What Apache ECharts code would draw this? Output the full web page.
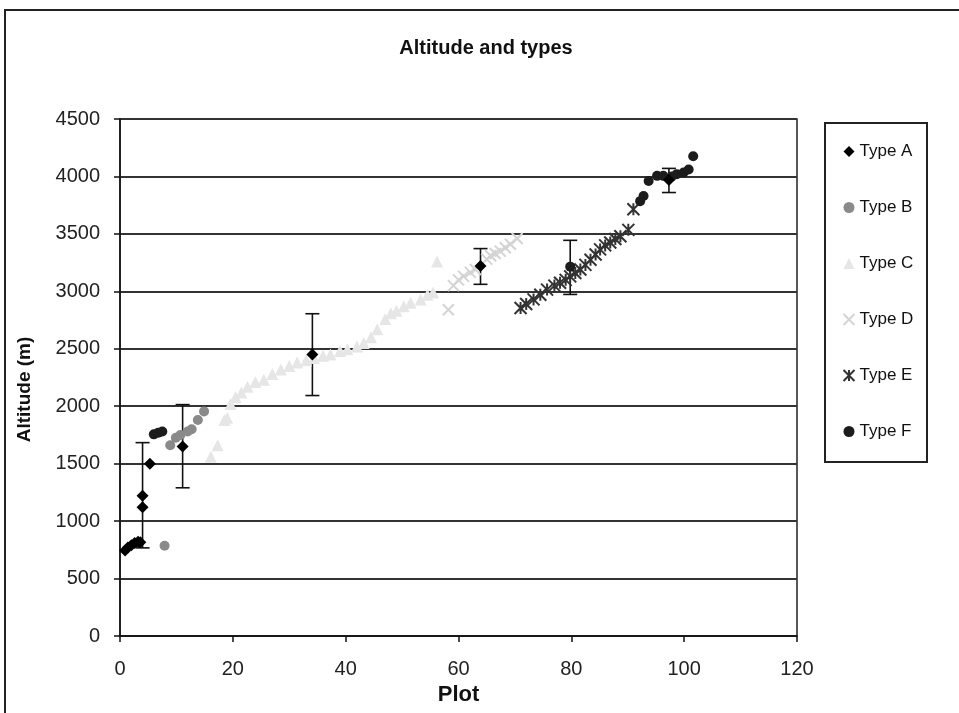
<!DOCTYPE html>
<html>
<head>
<meta charset="utf-8">
<script src="https://cdn.jsdelivr.net/npm/echarts@6/dist/echarts.min.js"></script>
<style>
  html, body { margin: 0; padding: 0; background: #fff; }
  #chart { width: 959px; height: 713px; }
</style>
</head>
<body>
<div id="chart"></div>
<script>
// values
const typeA = [[0.9, 745], [1.4, 770], [2, 790], [2.6, 810], [3.2, 820], [3.6, 815],
  [4, 1120], [4, 1220], [5.3, 1500], [11.1, 1650], [34.1, 2450], [63.9, 3220], [97.3, 3970]]
const typeB = [[7.9, 785], [8.9, 1660], [9.9, 1725], [10.7, 1750], [12, 1780], [12.7, 1800],
  [13.8, 1880], [14.9, 1955]]
const typeC = [[16.1, 1560], [17.3, 1660], [18.5, 1880], [19, 1900], [19.6, 2020], [20.5, 2080],
  [21.5, 2120], [22.6, 2170], [24, 2210], [25.5, 2230], [27, 2280], [28.5, 2320], [30, 2350],
  [31.4, 2380], [33, 2400], [34.4, 2420], [36, 2440], [37.3, 2450], [39, 2480], [40.3, 2495],
  [42, 2520], [43.2, 2550], [44.5, 2600], [45.6, 2670], [47, 2760], [48, 2810], [49, 2830],
  [50.3, 2870], [51.5, 2900], [53.3, 2930], [54.5, 2970], [55.5, 2990], [56.2, 3260]]
const typeD = [[58.2, 2840], [59.1, 3050], [60, 3100], [60.9, 3130], [62.1, 3165], [63, 3190],
  [65, 3280], [65.7, 3310], [66.5, 3330], [67.4, 3350], [68.3, 3380], [69.2, 3410], [70.4, 3460]]
const typeE = [[71, 2855], [72, 2890], [73.3, 2930], [74.5, 2970], [75.7, 3015], [77, 3050],
  [78, 3075], [79, 3100], [79.8, 3130], [80.7, 3160], [81.6, 3190], [82.5, 3230], [83.4, 3275],
  [84.3, 3320], [85.1, 3365], [86, 3400], [86.9, 3425], [87.8, 3455], [88.7, 3480], [90.1, 3535],
  [91, 3715]]
const typeF = [[6, 1755], [6.8, 1770], [7.5, 1780], [79.8, 3215], [92.2, 3785], [92.8, 3830],
  [93.7, 3960], [95.2, 4005], [96.3, 4005], [97.8, 4000], [98.7, 4020], [99.9, 4035],
  [100.8, 4060], [101.6, 4175]]
// x, y, low, high
const errorBars = [[4, 1220, 767, 1683], [11.1, 1650, 1290, 2014], [34.1, 2450, 2093, 2805],
  [63.9, 3220, 3061, 3372], [79.8, 3215, 2973, 3444], [97.3, 3970, 3860, 4070]]

const font = 'Liberation Sans, Arial, sans-serif'
const crossPath = 'path://M0,0L10,10M10,0L0,10'
const starPath = 'path://M0,0L10,10M10,0L0,10M5,0L5,10'

const chart = echarts.init(document.getElementById('chart'))

// error bar: vertical line plus two caps
function renderBar(params, api) {
  const x = api.value(0)
  const lo = api.coord([x, api.value(2)])
  const hi = api.coord([x, api.value(3)])
  const w = 7
  const style = { stroke: '#111', lineWidth: 1.6 }
  return {
    type: 'group',
    children: [
      { type: 'line', shape: { x1: lo[0], y1: lo[1], x2: hi[0], y2: hi[1] }, style },
      { type: 'line', shape: { x1: lo[0] - w, y1: lo[1], x2: lo[0] + w, y2: lo[1] }, style },
      { type: 'line', shape: { x1: hi[0] - w, y1: hi[1], x2: hi[0] + w, y2: hi[1] }, style }
    ]
  }
}

chart.setOption({
  animation: false,
  backgroundColor: '#fff',
  title: {
    text: 'Altitude and types',
    left: 481,
    textAlign: 'center',
    top: 33,
    textStyle: { fontFamily: font, fontSize: 20, fontWeight: 'bold', color: '#111' }
  },
  grid: {
    left: 120, top: 119, right: 162, bottom: 77,
    show: true, borderColor: '#222', borderWidth: 1.5
  },
  legend: {
    orient: 'vertical',
    left: 836,
    top: 138,
    itemWidth: 11,
    itemHeight: 11,
    itemGap: 39,
    textStyle: { fontFamily: font, fontSize: 17, color: '#111' },
    data: ['Type A', 'Type B', 'Type C', 'Type D', 'Type E', 'Type F']
  },
  xAxis: {
    type: 'value',
    min: 0, max: 120, interval: 20,
    name: 'Plot',
    nameLocation: 'middle',
    nameGap: 46,
    nameTextStyle: { fontFamily: font, fontSize: 22, fontWeight: 'bold', color: '#111' },
    axisLine: { lineStyle: { color: '#111', width: 1.5 } },
    axisTick: { show: true, length: 6, lineStyle: { color: '#111', width: 1.5 } },
    axisLabel: { fontFamily: font, fontSize: 20, color: '#222', margin: 23 },
    splitLine: { show: false }
  },
  yAxis: {
    type: 'value',
    min: 0, max: 4500, interval: 500,
    name: 'Altitude (m)',
    nameLocation: 'middle',
    nameGap: 86,
    nameTextStyle: { fontFamily: font, fontSize: 19, fontWeight: 'bold', color: '#111', padding: [0, 24, 0, 0] },
    axisLine: { show: true, lineStyle: { color: '#111', width: 1.5 } },
    axisTick: { show: true, length: 6, lineStyle: { color: '#111', width: 1.5 } },
    axisLabel: { fontFamily: font, fontSize: 20, color: '#222', margin: 20, formatter: v => String(v) },
    splitLine: { show: true, lineStyle: { color: '#333', width: 2 } }
  },
  graphic: [
    { type: 'rect', shape: { x: 5, y: 10, width: 1000, height: 800 },
      style: { fill: 'none', stroke: '#222', lineWidth: 2 }, silent: true },
    { type: 'rect', shape: { x: 825, y: 123, width: 102, height: 339 },
      style: { fill: 'none', stroke: '#222', lineWidth: 2 }, silent: true }
  ],
  series: [
    {
      type: 'custom', name: 'errors', renderItem: renderBar, data: errorBars, z: 2,
      encode: { x: 0, y: [1, 2, 3] }
    },
    { name: 'Type C', type: 'scatter', data: typeC, symbol: 'triangle', symbolSize: 12,
      itemStyle: { color: '#e6e6e6', opacity: 1 }, z: 3 },
    { name: 'Type D', type: 'scatter', data: typeD, symbol: crossPath, symbolSize: 11,
      itemStyle: { color: 'none', borderColor: '#d4d4d4', borderWidth: 2, opacity: 1 }, z: 3 },
    { name: 'Type B', type: 'scatter', data: typeB, symbol: 'circle', symbolSize: 10,
      itemStyle: { color: '#8a8a8a', opacity: 1 }, z: 4 },
    { name: 'Type E', type: 'scatter', data: typeE, symbol: starPath, symbolSize: 12,
      itemStyle: { color: 'none', borderColor: '#333', borderWidth: 2, opacity: 1 }, z: 4 },
    { name: 'Type F', type: 'scatter', data: typeF, symbol: 'circle', symbolSize: 10,
      itemStyle: { color: '#1c1c1c', opacity: 1 }, z: 5 },
    { name: 'Type A', type: 'scatter', data: typeA, symbol: 'diamond', symbolSize: 12,
      itemStyle: { color: '#000', opacity: 1 }, z: 6 }
  ]
})
</script>
</body>
</html>
